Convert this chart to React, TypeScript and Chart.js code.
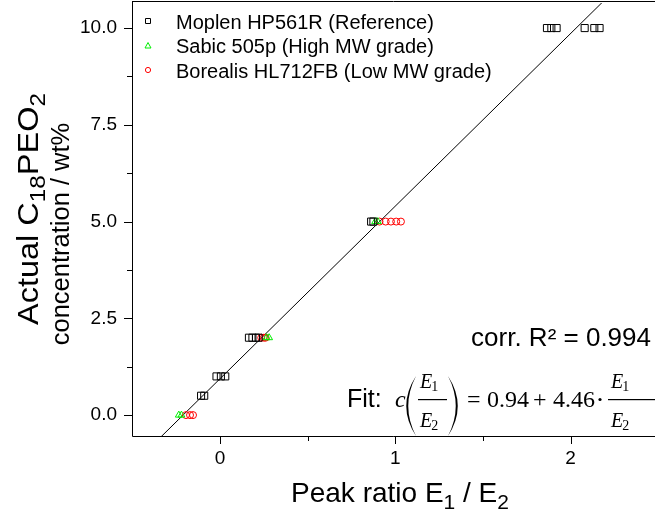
import React, { useEffect, useRef } from 'react';
import { Chart, registerables } from 'chart.js';

Chart.register(...registerables);

// ---------------- data ----------------
const seriesNames = [
  'Moplen HP561R (Reference)',
  'Sabic 505p (High MW grade)',
  'Borealis HL712FB (Low MW grade)',
];
const seriesColors = ['#000000', '#00ee00', '#ff0000'];

const moplenX = [-0.108, -0.09, -0.02, 0.005, 0.03, 0.165, 0.185, 0.205, 0.22, 0.862, 0.875, 1.865, 1.89, 1.92, 2.08, 2.135, 2.165];
const moplenY = [0.5, 0.5, 1, 1, 1, 2, 2, 2, 2, 5, 5, 10, 10, 10, 10, 10, 10];

const sabicX = [-0.235, -0.22, 0.265, 0.28, 0.885, 0.9];
const sabicY = [0, 0, 2, 2, 5, 5];

const borealisX = [-0.194, -0.171, -0.154, 0.235, 0.25, 0.26, 0.91, 0.945, 0.975, 1.005, 1.032];
const borealisY = [0, 0, 0, 2, 2, 2, 5, 5, 5, 5, 5];

const fitIntercept = 0.94;
const fitSlope = 4.46;
const fitRange = [-0.5, 2.5];
const rSquared = '0.994';

const xMajorTicks = [0, 1, 2];
const xMinorTicks = [0.5, 1.5];
const yMajorTicks = [0, 2.5, 5, 7.5, 10];
const yTickLabels = ['0.0', '2.5', '5.0', '7.5', '10.0'];
const yMinorTicks = [1.25, 3.75, 6.25, 8.75];

const SANS = '"Liberation Sans", Arial, Helvetica, sans-serif';
const SERIF = '"Liberation Serif", "Times New Roman", serif';

type Part = { t: string; sub?: boolean };

function drawRich(ctx: CanvasRenderingContext2D, parts: Part[], x: number, y: number, size: number, family: string, measureOnly = false, subScale = 0.72): number {
  let cx = x;
  for (const p of parts) {
    const s = p.sub ? size * subScale : size;
    ctx.font = `${s}px ${family}`;
    const w = ctx.measureText(p.t).width;
    if (!measureOnly) ctx.fillText(p.t, cx, p.sub ? y + size * 0.24 : y);
    cx += w;
  }
  return cx - x;
}

function paren(ctx: CanvasRenderingContext2D, xEdge: number, top: number, bottom: number, w: number, left: boolean) {
  const mid = (top + bottom) / 2;
  const dir = left ? 1 : -1;
  ctx.beginPath();
  ctx.moveTo(xEdge + dir * w, top);
  ctx.quadraticCurveTo(xEdge - dir * w * 0.95, mid, xEdge + dir * w, bottom);
  ctx.quadraticCurveTo(xEdge - dir * w * 0.95 + dir * 4, mid, xEdge + dir * w, top);
  ctx.fill();
}

function fracE(ctx: CanvasRenderingContext2D, x0: number, x1: number, xt: number) {
  ctx.fillRect(x0, 399, x1 - x0, 1.2);
  ctx.font = `italic 20px ${SERIF}`;
  ctx.fillText('E', xt, 388);
  const w = ctx.measureText('E').width;
  ctx.font = `14px ${SERIF}`;
  ctx.fillText('1', xt + w - 1, 391);
  ctx.font = `italic 20px ${SERIF}`;
  ctx.fillText('E', xt, 427);
  ctx.font = `14px ${SERIF}`;
  ctx.fillText('2', xt + w - 1, 430);
}

const FRAME_TOP = 1.5;

const decorPlugin = {
  id: 'decor',
  afterDraw(chart: any) {
    const { ctx, chartArea: a, scales } = chart;
    const x = scales.x;
    const y = scales.y;
    const W = chart.width;
    ctx.save();
    ctx.strokeStyle = '#000';
    ctx.fillStyle = '#000';
    ctx.lineWidth = 1;
    // frame (the right side is cut off by the picture edge)
    ctx.beginPath();
    ctx.moveTo(a.left + 0.5, FRAME_TOP);
    ctx.lineTo(a.left + 0.5, a.bottom + 0.5);
    ctx.lineTo(W, a.bottom + 0.5);
    ctx.moveTo(a.left, FRAME_TOP);
    ctx.lineTo(W, FRAME_TOP);
    ctx.stroke();
    // ticks
    ctx.beginPath();
    for (const v of xMajorTicks) {
      const p = Math.round(x.getPixelForValue(v)) + 0.5;
      ctx.moveTo(p, a.bottom);
      ctx.lineTo(p, a.bottom + 8);
    }
    for (const v of xMinorTicks) {
      const p = Math.round(x.getPixelForValue(v)) + 0.5;
      ctx.moveTo(p, a.bottom);
      ctx.lineTo(p, a.bottom + 5);
    }
    for (const v of yMajorTicks) {
      const p = Math.round(y.getPixelForValue(v)) + 0.5;
      ctx.moveTo(a.left, p);
      ctx.lineTo(a.left - 8, p);
    }
    for (const v of yMinorTicks) {
      const p = Math.round(y.getPixelForValue(v)) + 0.5;
      ctx.moveTo(a.left, p);
      ctx.lineTo(a.left - 5, p);
    }
    ctx.stroke();

    // x title
    ctx.textBaseline = 'alphabetic';
    ctx.textAlign = 'left';
    const xt: Part[] = [{ t: 'Peak ratio E' }, { t: '1', sub: true }, { t: ' / E' }, { t: '2', sub: true }];
    const xw = drawRich(ctx, xt, 0, 0, 28, SANS, true, 0.75);
    drawRich(ctx, xt, 400 - xw / 2, 502, 28, SANS, false, 0.75);

    // y title (two lines, rotated)
    const l1: Part[] = [{ t: 'Actual C' }, { t: '18', sub: true }, { t: 'PEO' }, { t: '2', sub: true }];
    const l2: Part[] = [{ t: 'concentration / wt%' }];
    const w1 = drawRich(ctx, l1, 0, 0, 29, SANS, true, 0.75);
    const w2 = drawRich(ctx, l2, 0, 0, 25.5, SANS, true);
    const len1 = 232;
    ctx.save();
    ctx.translate(38, 209 + len1 / 2);
    ctx.rotate(-Math.PI / 2);
    ctx.scale(len1 / w1, 1);
    drawRich(ctx, l1, 0, 0, 29, SANS, false, 0.75);
    ctx.restore();
    ctx.save();
    ctx.translate(69, 234 + w2 / 2);
    ctx.rotate(-Math.PI / 2);
    drawRich(ctx, l2, 0, 0, 25.5, SANS);
    ctx.restore();

    // legend
    const rows = [21, 45.5, 70];
    ctx.font = `20px ${SANS}`;
    seriesNames.forEach((name, i) => {
      const cy = rows[i];
      ctx.strokeStyle = seriesColors[i];
      ctx.beginPath();
      if (i === 0) {
        ctx.rect(145.5, cy - 2.5, 5, 5);
      } else if (i === 1) {
        ctx.moveTo(148, cy - 3);
        ctx.lineTo(151, cy + 2.5);
        ctx.lineTo(145, cy + 2.5);
        ctx.closePath();
      } else {
        ctx.arc(148, cy, 2.6, 0, Math.PI * 2);
      }
      ctx.stroke();
      ctx.fillStyle = '#000';
      ctx.fillText(name, 176, cy + 7.5);
    });

    // corr R²
    ctx.fillStyle = '#000';
    ctx.font = `26px ${SANS}`;
    ctx.textAlign = 'right';
    ctx.fillText(`corr. R² = ${rSquared}`, 651, 346);
    ctx.textAlign = 'left';

    // Fit equation
    ctx.font = `25px ${SANS}`;
    ctx.fillText('Fit:', 347, 407);
    ctx.font = `italic 24px ${SERIF}`;
    ctx.fillText('c', 395, 407);
    paren(ctx, 406, 376, 436, 10, true);
    fracE(ctx, 418, 447, 420);
    paren(ctx, 458, 376, 436, 10, false);
    ctx.font = `24px ${SERIF}`;
    ctx.fillText('=', 467, 407);
    ctx.fillText(fitIntercept.toFixed(2), 487, 407);
    ctx.fillText('+', 533, 407);
    ctx.fillText(fitSlope.toFixed(2), 553, 407);
    ctx.beginPath();
    ctx.arc(600, 399.5, 1.6, 0, Math.PI * 2);
    ctx.fill();
    fracE(ctx, 608, 660, 611);

    ctx.restore();
  },
};

const toPts = (xs: number[], ys: number[]) => xs.map((v, i) => ({ x: v, y: ys[i] }));

export default function App() {
  const ref = useRef<HTMLCanvasElement | null>(null);
  useEffect(() => {
    if (!ref.current) return;
    const chart = new Chart(ref.current, {
      type: 'scatter',
      data: {
        datasets: [
          {
            label: seriesNames[0],
            data: toPts(moplenX, moplenY),
            pointStyle: 'rect',
            pointRadius: 5,
            pointBorderWidth: 1,
            borderColor: seriesColors[0],
            backgroundColor: 'rgba(0,0,0,0)',
          },
          {
            label: seriesNames[1],
            data: toPts(sabicX, sabicY),
            pointStyle: 'triangle',
            pointRadius: 4,
            pointBorderWidth: 1,
            borderColor: seriesColors[1],
            backgroundColor: 'rgba(0,0,0,0)',
          },
          {
            label: seriesNames[2],
            data: toPts(borealisX, borealisY),
            pointStyle: 'circle',
            pointRadius: 3.5,
            pointBorderWidth: 1,
            borderColor: seriesColors[2],
            backgroundColor: 'rgba(0,0,0,0)',
          },
          {
            label: 'Fit',
            data: fitRange.map((v) => ({ x: v, y: fitIntercept + fitSlope * v })),
            showLine: true,
            pointRadius: 0,
            borderColor: '#000',
            borderWidth: 1,
            clip: { left: 0, top: 3, right: 8, bottom: 0 },
          } as any,
        ],
      },
      options: {
        animation: false,
        responsive: true,
        maintainAspectRatio: false,
        layout: { padding: { top: 2, right: 0, left: 0, bottom: 0 } },
        plugins: { legend: { display: false }, tooltip: { enabled: false } },
        scales: {
          x: {
            type: 'linear',
            min: -0.502,
            max: 2.447,
            grid: { display: false, drawTicks: false },
            border: { display: false },
            afterFit: (s: any) => { s.height = 74; s.paddingLeft = 0; s.paddingRight = 0; },
            ticks: {
              stepSize: 1,
              includeBounds: false,
              autoSkip: false,
              maxRotation: 0,
              padding: 11,
              color: '#000',
              font: { family: SANS, size: 19 },
              callback: (v: any) => (xMajorTicks.includes(Number(v)) ? String(v) : ''),
            },
          },
          y: {
            type: 'linear',
            min: -0.54,
            max: 10.57,
            grid: { display: false, drawTicks: false },
            border: { display: false },
            afterFit: (s: any) => { s.width = 132; s.paddingTop = 0; s.paddingBottom = 0; },
            ticks: {
              stepSize: 2.5,
              includeBounds: false,
              autoSkip: false,
              padding: 15,
              color: '#000',
              font: { family: SANS, size: 19 },
              callback: (v: any) => {
                const i = yMajorTicks.indexOf(Number(v));
                return i >= 0 ? yTickLabels[i] : '';
              },
            },
          },
        },
      },
      plugins: [decorPlugin],
    });
    return () => chart.destroy();
  }, []);
  return (
    <div style={{ position: 'absolute', left: 0, top: 0, width: 655, height: 510, background: '#fff' }}>
      <canvas ref={ref} />
    </div>
  );
}
